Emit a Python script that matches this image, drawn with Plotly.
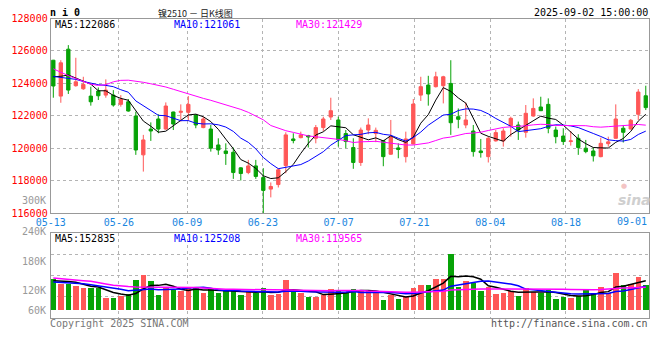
import plotly.graph_objects as go
import pandas as pd

# ---------------- data ----------------
dates = ["05-13","05-14","05-15","05-16","05-19","05-20","05-21","05-22","05-23","05-26",
         "05-27","05-28","05-29","05-30","06-03","06-04","06-05","06-06","06-09","06-10",
         "06-11","06-12","06-13","06-16","06-17","06-18","06-19","06-20","06-23","06-24",
         "06-25","06-26","06-27","06-30","07-01","07-02","07-03","07-04","07-07","07-08",
         "07-09","07-10","07-11","07-14","07-15","07-16","07-17","07-18","07-21","07-22",
         "07-23","07-24","07-25","07-28","07-29","07-30","07-31","08-01","08-04","08-05",
         "08-06","08-07","08-08","08-11","08-12","08-13","08-14","08-15","08-18","08-19",
         "08-20","08-21","08-22","08-25","08-26","08-27","08-28","08-29","09-01","09-02"]

opens = [125430,123220,126110,123860,123670,123220,123530,123280,123280,122710,
         122870,121990,119600,121190,121810,121190,122240,122220,122220,122050,
         121280,121190,120210,119840,119760,118800,118510,118920,118200,117490,
         117770,118940,120580,120660,120790,120620,121280,121930,121750,120910,
         120050,119130,121130,120910,120480,119640,120030,119490,120270,123280,
         123900,123800,123860,124000,121950,121440,121070,119840,119490,120460,
         120460,121400,121440,120990,121990,122550,122710,121130,120760,120420,
         120620,120010,119840,119490,120290,120620,121240,121190,122100,123240]
highs = [125450,125430,126360,125580,124410,123800,123750,124250,123590,123280,
         123040,122260,120830,121600,122100,122830,122260,122710,123220,122100,
         121950,121440,120620,120310,120050,118840,119290,119290,118780,117900,
         118780,120990,120930,121030,120830,121440,121950,123120,121950,121130,
         120620,121280,121850,121280,120520,121750,120310,121030,123040,124410,
         124470,124720,124470,125430,122460,122830,121440,120580,120720,121130,
         121240,121950,121650,122670,123080,123180,123080,121340,121240,121070,
         120870,120520,120050,120660,120720,122710,121440,121810,123650,123860]
lows = [123120,122810,123350,123800,123610,122630,122980,123120,122570,122570,
        122260,119600,118570,120460,120930,121150,121130,121650,121690,121240,
        121240,119800,119600,118980,118120,118020,118410,118120,115590,116980,
        117590,118470,120310,120620,120050,120310,121070,121750,120110,120010,
        118740,118920,120870,120380,118900,119600,119390,119130,120250,122920,
        122630,123750,122770,120830,121240,121240,119490,119430,119130,120420,
        120110,120720,120520,120660,121950,122300,120930,120310,120210,120170,
        119600,119700,119190,119450,120110,120600,120360,121170,121750,122360]
closes = [123840,125270,123590,124100,123940,122870,123240,123590,122670,123020,
          122300,119900,120520,121070,121190,122610,121500,122280,122710,121440,
          121810,120010,119900,119680,118510,118450,118920,118270,117410,117650,
          118680,120830,120480,120830,120700,121280,121810,122320,120520,120420,
          119130,121130,121440,121110,119490,120720,119930,120580,122730,123800,
          123350,124410,124410,121580,121790,121750,119800,119740,120620,120970,
          121070,121850,121130,122160,122460,122320,121240,120720,120420,120460,
          120050,119800,119540,120310,120400,121810,120990,121730,123470,122510]
volumes_k = [158,137,133,126,116,112,116,61,61,74,
             86,157,179,148,77,116,106,100,116,114,
             90,107,90,100,100,81,100,90,116,81,
             86,153,100,90,70,70,81,111,100,90,
             111,106,106,90,55,77,60,69,116,132,
             132,162,162,290,121,151,142,100,121,86,
             90,100,75,116,95,90,106,60,70,65,
             75,111,90,121,90,193,132,137,172,132]

ma5_head = [124410, 124440, 124520, 124330]
ma10_head = [124430, 124380, 124330, 124250, 124120, 124000, 123920, 123880, 123800]
ma30_head = [124900, 124680, 124480, 124300, 124130, 123950, 123880, 123920, 124100, 124190,
             124200, 124150, 124070, 123980, 123890, 123780, 123640, 123490, 123340, 123200,
             123080, 122960, 122830, 122700, 122560, 122400, 122220, 122010, 121760]
vma5_head = [153, 152, 149, 145]
vma10_head = [147, 145, 144, 141, 138, 133, 128, 122, 117]
vma30_head = [167, 163, 158, 155, 153, 150, 145, 137, 130, 125,
              123, 121, 121, 119, 119, 119, 119, 119, 119, 119,
              116, 113, 111, 109, 109, 109, 108, 108, 107]

price_ma_labels = ["MA5:122086", "MA10:121061", "MA30:121429"]
vol_ma_labels = ["MA5:152835", "MA10:125208", "MA30:119565"]
price_ticks = [116000, 118000, 120000, 122000, 124000, 126000, 128000]
vol_tick_labels = ["300K", "240K", "180K", "120K", "60K"]
x_label_dates = ["05-13", "05-26", "06-09", "06-23", "07-07", "07-21", "08-04", "08-18"]
last_label_date = "09-01"

# ---------------- derived ----------------
def ma(series, n, head):
    s = pd.Series(series, dtype=float).rolling(n).mean()
    s.iloc[:len(head)] = head
    return s.tolist()

ma5 = ma(closes, 5, ma5_head)
ma10 = ma(closes, 10, ma10_head)
ma30 = ma(closes, 30, ma30_head)
vma5 = ma(volumes_k, 5, vma5_head)
vma10 = ma(volumes_k, 10, vma10_head)
vma30 = ma(volumes_k, 30, vma30_head)

RED = "#ff5757"
GREEN = "#07a307"
N = len(dates)
xs = list(range(N))
bar_colors = [RED if c >= o else GREEN for o, c in zip(opens, closes)]

# the page body has an 8px margin, so the figure is shrunk and all positions shifted by it
OFF = 8
W, H = 660 - OFF, 360 - OFF
def px(x, y):
    return (x - OFF) / W, 1 - (y - OFF) / H

left, right = 50.7, 649.3
p_top, p_bot = 18.5, 213.3
v_top, v_bot = 233.3, 317.7
xr = [-0.35, 79.47]
vol_range = [-35.8, 395.5]

grid_x = [xr[0] + dates.index(d) * (xr[1] - xr[0]) / (N - 1) for d in x_label_dates]
grid_x[0] += 0.01
vol_grid = [vol_range[0] + k * (vol_range[1] - vol_range[0]) / 4 for k in range(1, 4)]

MONO = "DejaVu Sans Mono"
fig = go.Figure()

fig.add_trace(go.Candlestick(
    x=xs, open=opens, high=highs, low=lows, close=closes,
    increasing=dict(line=dict(color=RED, width=1), fillcolor=RED),
    decreasing=dict(line=dict(color=GREEN, width=1), fillcolor=GREEN),
    whiskerwidth=0, showlegend=False, xaxis="x", yaxis="y"))
for vals, col in [(ma5, "#000000"), (ma10, "#0000ff"), (ma30, "#ff00ff")]:
    fig.add_trace(go.Scatter(x=xs, y=vals, mode="lines", line=dict(color=col, width=1),
                             showlegend=False, xaxis="x", yaxis="y"))

fig.add_trace(go.Bar(x=xs, y=volumes_k, marker=dict(color=bar_colors, line=dict(width=0)),
                     width=0.76, showlegend=False, xaxis="x2", yaxis="y2"))
for vals, col in [(vma5, "#000000"), (vma10, "#0000ff"), (vma30, "#ff00ff")]:
    fig.add_trace(go.Scatter(x=xs, y=vals, mode="lines", line=dict(color=col, width=1.5),
                             showlegend=False, xaxis="x2", yaxis="y2"))

axis_common = dict(showline=True, mirror=True, linecolor="#999999", linewidth=1,
                   showgrid=True, gridcolor="#b4b4b4", griddash="dot", gridwidth=1,
                   zeroline=False, ticks="", automargin=False)

x0d, _ = px(left, 0)
x1d, _ = px(right, 0)
_, py0 = px(0, p_bot)
_, py1 = px(0, p_top)
_, vy0 = px(0, v_bot)
_, vy1 = px(0, v_top)

fig.update_layout(
    template="none",
    width=W, height=H, margin=dict(l=0, r=0, t=0, b=0, pad=0, autoexpand=False),
    paper_bgcolor="white", plot_bgcolor="white",
    font=dict(family=MONO, size=10, color="#000000"),
    boxgap=0.37, bargap=0, showlegend=False,
    xaxis=dict(domain=[x0d, x1d], range=xr, tickvals=grid_x, ticktext=x_label_dates,
               tickfont=dict(color="#1a86e0", size=10, family=MONO),
               rangeslider=dict(visible=False), anchor="y", **axis_common),
    yaxis=dict(domain=[py0, py1], range=[116000, 128000],
               tickvals=price_ticks, ticktext=[str(v) for v in price_ticks],
               tickfont=dict(color="#ff0000", size=10, family=MONO), anchor="x", **axis_common),
    xaxis2=dict(domain=[x0d, x1d], range=xr, tickvals=grid_x, showticklabels=False,
                anchor="y2", **axis_common),
    yaxis2=dict(domain=[vy0, vy1], range=vol_range, tickvals=vol_grid,
                showticklabels=False, anchor="x2", **axis_common),
)

ann = []
def text(x, y, s, color="#000000", size=10, xanchor="left", family=MONO, bold=False, italic=False):
    xx, yy = px(x, y)
    if bold:
        s = "<b>" + s + "</b>"
    if italic:
        s = "<i>" + s + "</i>"
    ann.append(dict(x=xx, y=yy, xref="paper", yref="paper", text=s, showarrow=False,
                    xanchor=xanchor, yanchor="middle", borderpad=0,
                    font=dict(color=color, size=size, family=family)))

text(49, 13, "n i 0", size=10, bold=True)
text(195, 13.5, "镍2510 － 日K线图", color="#222222", size=9, xanchor="center",
     family="Noto Sans CJK SC")
text(649, 13, "2025-09-02 15:00:00", xanchor="right")

ma_cols = ["#000000", "#0000ff", "#ff00ff"]
for lbl, col, x0 in zip(price_ma_labels, ma_cols, [53.5, 173.5, 294.5]):
    text(x0, 24.8, lbl, color=col)
for lbl, col, x0 in zip(vol_ma_labels, ma_cols, [53.5, 173.5, 294.5]):
    text(x0, 238.5, lbl, color=col)

for lbl, y in zip(vol_tick_labels, [200.5, 231, 261, 290.5, 310]):
    text(47, y, lbl, color="#999999", xanchor="right")

text(648, 221, last_label_date, color="#1a86e0", xanchor="right")
text(49, 323, "Copyright 2025 SINA.COM", color="#777777")
text(649, 323.5, "http://finance.sina.com.cn", color="#555555", xanchor="right")
text(634, 200, "sina", color="#cfcfcf", size=14, xanchor="center", family="DejaVu Sans",
     bold=True, italic=True)
text(624, 186, "●", color="#f3c4c4", size=7, xanchor="center", family="DejaVu Sans")

fig.update_layout(annotations=ann)
fig.write_html("out.html")
